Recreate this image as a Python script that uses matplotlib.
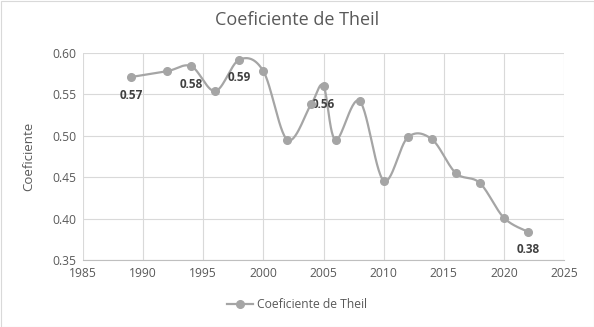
#!/usr/bin/env python3
import numpy as np
import matplotlib
matplotlib.use("Agg")
import matplotlib.pyplot as plt
from matplotlib.patches import Rectangle

plt.rcParams['font.family'] = ['Open Sans', 'DejaVu Sans']

years = [1989, 1992, 1994, 1996, 1998, 2000, 2002, 2004, 2005, 2006,
         2008, 2010, 2012, 2014, 2016, 2018, 2020, 2022]
theil = [0.571, 0.578, 0.584, 0.554, 0.592, 0.578, 0.495, 0.539, 0.560, 0.495,
         0.542, 0.446, 0.498, 0.496, 0.455, 0.443, 0.401, 0.384]
labelled = [1989, 1994, 1998, 2005, 2022]

GREY = "#a5a5a5"
TXT = "#595959"


def smooth(x, y, n=30):
    # Excel style smoothed line: cubic bezier with catmull-rom control points
    x = np.asarray(x, float)
    y = np.asarray(y, float)
    px = np.concatenate([[x[0]], x, [x[-1]]])
    py = np.concatenate([[y[0]], y, [y[-1]]])
    xs, ys = [], []
    t = np.linspace(0, 1, n)
    for i in range(len(x) - 1):
        p0 = np.array([px[i + 1], py[i + 1]])
        p3 = np.array([px[i + 2], py[i + 2]])
        c1 = p0 + (np.array([px[i + 2], py[i + 2]]) - np.array([px[i], py[i]])) / 6
        c2 = p3 - (np.array([px[i + 3], py[i + 3]]) - np.array([px[i + 1], py[i + 1]])) / 6
        b = (np.outer((1 - t) ** 3, p0) + np.outer(3 * (1 - t) ** 2 * t, c1)
             + np.outer(3 * (1 - t) * t ** 2, c2) + np.outer(t ** 3, p3))
        xs.extend(b[:, 0])
        ys.extend(b[:, 1])
    return xs, ys


fig = plt.figure(figsize=(5.94, 3.27), dpi=100)
ax = fig.add_axes([83 / 594, 1 - 260 / 327, (564 - 83) / 594, (260 - 53) / 327])

sx, sy = smooth(years, theil)
ax.plot(sx, sy, color=GREY, lw=1.6, zorder=3)
ax.plot(years, theil, color=GREY, lw=0, marker="o", ms=5.5, zorder=4)
# legend proxy
ax.plot([], [], color=GREY, lw=1.6, marker="o", ms=5.5, label="Coeficiente de Theil")

for yr, v in zip(years, theil):
    if yr in labelled:
        ax.annotate(f"{v:.2f}", (yr, v), xytext=(0, -13), textcoords="offset points",
                    ha="center", va="center", fontsize=8.5, fontweight="bold", color="#404040")

ax.set_xlim(1985, 2025)
ax.set_ylim(0.35, 0.60)
ax.set_xticks(range(1985, 2026, 5))
ax.set_yticks(np.arange(0.35, 0.601, 0.05))
ax.yaxis.set_major_formatter(plt.FormatStrFormatter("%.2f"))
ax.grid(True, color="#d9d9d9", lw=0.8)
ax.set_axisbelow(True)
for s in ["top", "right", "left"]:
    ax.spines[s].set_visible(False)
ax.spines["bottom"].set_color("#bfbfbf")
ax.tick_params(length=0, labelsize=8.7, colors=TXT, pad=5)

ax.set_ylabel("Coeficiente", fontsize=9.5, color=TXT, labelpad=12)
fig.text(0.5, 1 - 20 / 327, "Coeficiente de Theil", ha="center", va="center",
         fontsize=13, color=TXT)

fig.legend(loc="center", bbox_to_anchor=(0.5, 1 - 305 / 327), frameon=False,
           fontsize=8.7, labelcolor=TXT, handlelength=2.2, handletextpad=0.3)

fig.patches.append(Rectangle((0.5 / 594, 0.5 / 327), 1 - 1 / 594, 1 - 1 / 327,
                             transform=fig.transFigure, fill=False,
                             edgecolor="#d9d9d9", lw=0.8))

fig.savefig("out.png", dpi=100)
